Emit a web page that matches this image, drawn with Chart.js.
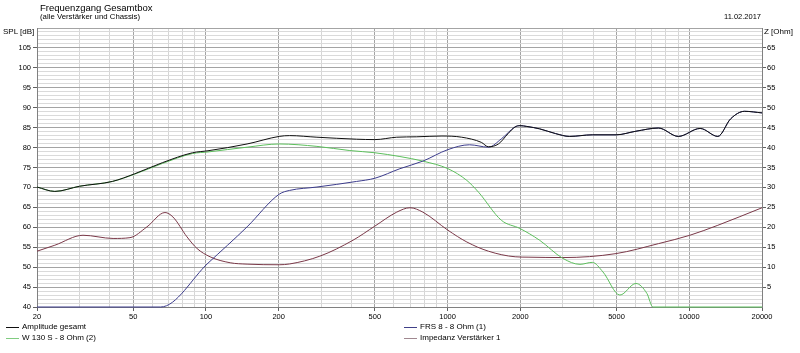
<!DOCTYPE html>
<html><head><meta charset="utf-8">
<script src="https://cdn.jsdelivr.net/npm/chart.js@4.4.1/dist/chart.umd.min.js"></script>
<style>
html,body{margin:0;padding:0;background:#fff;}
#wrap{position:relative;width:800px;height:353px;overflow:hidden;font-family:"Liberation Sans",Arial,sans-serif;color:#000;}
#c{position:absolute;left:0;top:0;}
.t{position:absolute;white-space:nowrap;}
.lg{position:absolute;height:1px;width:13px;}
</style></head>
<body>
<div id="wrap">
<canvas id="c" width="800" height="353"></canvas>
<div class="t" style="left:40px;top:2.6px;font-size:9.5px;line-height:9.5px;">Frequenzgang Gesamtbox</div>
<div class="t" style="left:40px;top:12.7px;font-size:7.8px;line-height:7.8px;">(alle Verstärker und Chassis)</div>
<div class="t" style="right:39px;top:12.6px;font-size:7.5px;line-height:7.5px;">11.02.2017</div>
<div class="t" style="left:3px;top:27.7px;font-size:8px;line-height:8px;">SPL [dB]</div>
<div class="t" style="left:764px;top:27.7px;font-size:8px;line-height:8px;">Z [Ohm]</div>
<div class="lg" style="left:6px;top:327px;background:#101010;"></div>
<div class="t" style="left:22px;top:323.2px;font-size:8px;line-height:8px;">Amplitude gesamt</div>
<div class="lg" style="left:6px;top:337.5px;background:#80cc80;"></div>
<div class="t" style="left:22px;top:333.6px;font-size:8px;line-height:8px;">W 130 S - 8 Ohm (2)</div>
<div class="lg" style="left:404px;top:327px;background:#404088;"></div>
<div class="t" style="left:420px;top:323.2px;font-size:8px;line-height:8px;">FRS 8 - 8 Ohm (1)</div>
<div class="lg" style="left:404px;top:337.5px;background:#a08890;"></div>
<div class="t" style="left:420px;top:333.6px;font-size:8px;line-height:8px;">Impedanz Verstärker 1</div>
</div>
<script>
// ---- data ----
const seriesNames = ["Amplitude gesamt", "FRS 8 - 8 Ohm (1)", "W 130 S - 8 Ohm (2)", "Impedanz Verstärker 1"];

const ampFreq = [20,23.7,30,41,50.6,66,88,102,148,201,222,288,420,500,616,742,948,1144,1380,1476,1623,1780,1904,1992,2127,2403,2800,3194,3970,4980,6015,7457,9009,11090,13130,14830,16930,20000];
const ampDb   = [70.1,69.0,70.3,71.5,73.4,76.2,78.7,79.2,80.9,82.8,83.0,82.6,82.1,82.0,82.6,82.7,82.9,82.6,81.3,80.2,80.9,83.5,85.2,85.5,85.3,84.7,83.5,82.8,83.2,83.2,84.1,84.9,82.8,84.8,82.8,87.2,89.1,88.7];

const frsFreq = [20,65,102,148,201,222,288,420,500,635,790,1004,1232,1476,1670,1904,1992,2127,2403,2800,3194,3970,4980,6015,7457,9009,11090,13130,14830,16930,20000];
const frsDb   = [40,40,51.0,60.1,68.3,69.25,70.1,71.5,72.3,74.7,76.6,79.5,80.7,80.1,82.2,85.2,85.5,85.3,84.7,83.5,82.8,83.2,83.2,84.1,84.9,82.8,84.8,82.8,87.2,89.1,88.7];

const wooferFreq = [20,23.7,30,41,50.6,66,88,102,148,201,288,394,500,635,790,1004,1202,1343,1670,1992,2403,3000,3530,3970,4394,5164,6015,6680,7074,20000];
const wooferDb   = [70.1,69.0,70.3,71.5,73.3,76.0,78.5,78.9,80.1,80.9,80.3,79.25,78.7,77.75,76.6,74.7,71.75,68.8,61.75,59.7,56.75,52.2,50.7,51.2,48.8,43.0,45.9,43.4,40,40];

const impFreq = [20,23.7,31,41.3,48.5,57,67.7,73,83.5,91.8,104,126,148,201,222,296,406,499,616,699,790,1004,1202,1476,1904,2172,3000,4980,7457,10060,13130,20000];
const impOhm  = [14.0,15.5,18.0,17.2,17.4,20.1,23.7,22.6,17.6,14.7,12.6,11.1,10.75,10.6,10.8,12.75,16.75,20.25,23.8,24.9,23.8,19.25,16.3,14.0,12.6,12.5,12.4,13.4,15.9,18.0,20.5,24.9];

const freqLabels = [20,50,100,200,500,1000,2000,5000,10000,20000];
const freqGrid = [20,30,40,50,60,70,80,90,100,200,300,400,500,600,700,800,900,1000,2000,3000,4000,5000,6000,7000,8000,9000,10000,20000];
const splLabels = [40,45,50,55,60,65,70,75,80,85,90,95,100,105];
const ohmLabels = [5,10,15,20,25,30,35,40,45,50,55,60,65];

const pts = (xs, ys) => xs.map((x, i) => ({x: x, y: ys[i]}));
const labelSet = new Set(freqLabels);
const font = {family: "'Liberation Sans', Arial, sans-serif", size: 7.5};

const lineBase = {pointRadius: 0, borderWidth: 1, cubicInterpolationMode: 'monotone', clip: 4, fill: false};

new Chart(document.getElementById('c'), {
  type: 'line',
  data: {
    datasets: [
      Object.assign({label: seriesNames[0], data: pts(ampFreq, ampDb), borderColor: '#101010', yAxisID: 'y'}, lineBase),
      Object.assign({label: seriesNames[1], data: pts(frsFreq, frsDb), borderColor: '#3c3c8c', yAxisID: 'y'}, lineBase),
      Object.assign({label: seriesNames[2], data: pts(wooferFreq, wooferDb), borderColor: '#5cbf5c', yAxisID: 'y'}, lineBase),
      Object.assign({label: seriesNames[3], data: pts(impFreq, impOhm), borderColor: '#7a3848', yAxisID: 'y2'}, lineBase)
    ]
  },
  options: {
    responsive: false,
    animation: false,
    devicePixelRatio: 1,
    layout: {padding: {top: 28, bottom: 30, left: 0, right: 0}},
    plugins: {legend: {display: false}, tooltip: {enabled: false}},
    scales: {
      x: {
        type: 'logarithmic', min: 20, max: 20000,
        afterBuildTicks: s => { s.ticks = freqGrid.map(v => ({value: v})); },
        afterFit: s => { s.height = 16; },
        ticks: {autoSkip: false, maxRotation: 0, minRotation: 0, padding: 1, color: '#000', font: font,
          callback: v => labelSet.has(v) ? String(v) : ''},
        grid: {
          color: c => (c.tick && labelSet.has(c.tick.value)) ? '#a4a4a4' : '#d6d6d6',
          tickColor: c => (c.tick && labelSet.has(c.tick.value)) ? '#606060' : 'rgba(0,0,0,0)',
          tickLength: 4, lineWidth: 1
        },
        border: {color: '#808080'}
      },
      y: {
        type: 'linear', position: 'left', min: 40, max: 110,
        afterBuildTicks: s => { const t = []; for (let v = 40; v <= 110; v++) t.push({value: v}); s.ticks = t; },
        afterFit: s => { s.width = 37; },
        ticks: {autoSkip: false, padding: 2, color: '#000', font: font,
          callback: v => splLabels.includes(v) ? String(v) : ''},
        grid: {
          color: c => (c.tick && c.tick.value % 5 === 0) ? '#a4a4a4' : '#dadada',
          tickColor: c => (c.tick && splLabels.includes(c.tick.value)) ? '#606060' : 'rgba(0,0,0,0)',
          tickLength: 4, lineWidth: 1
        },
        border: {color: '#808080'}
      },
      y2: {
        type: 'linear', position: 'right', min: 0, max: 70,
        afterBuildTicks: s => { const t = []; for (let v = 0; v <= 70; v += 5) t.push({value: v}); s.ticks = t; },
        afterFit: s => { s.width = 38; },
        ticks: {autoSkip: false, padding: 1, color: '#000', font: font,
          callback: v => ohmLabels.includes(v) ? String(v) : ''},
        grid: {
          drawOnChartArea: false,
          color: c => (c.tick && ohmLabels.includes(c.tick.value)) ? '#606060' : 'rgba(0,0,0,0)',
          tickLength: 4
        },
        border: {color: '#808080'}
      }
    }
  }
});
</script>
</body></html>
